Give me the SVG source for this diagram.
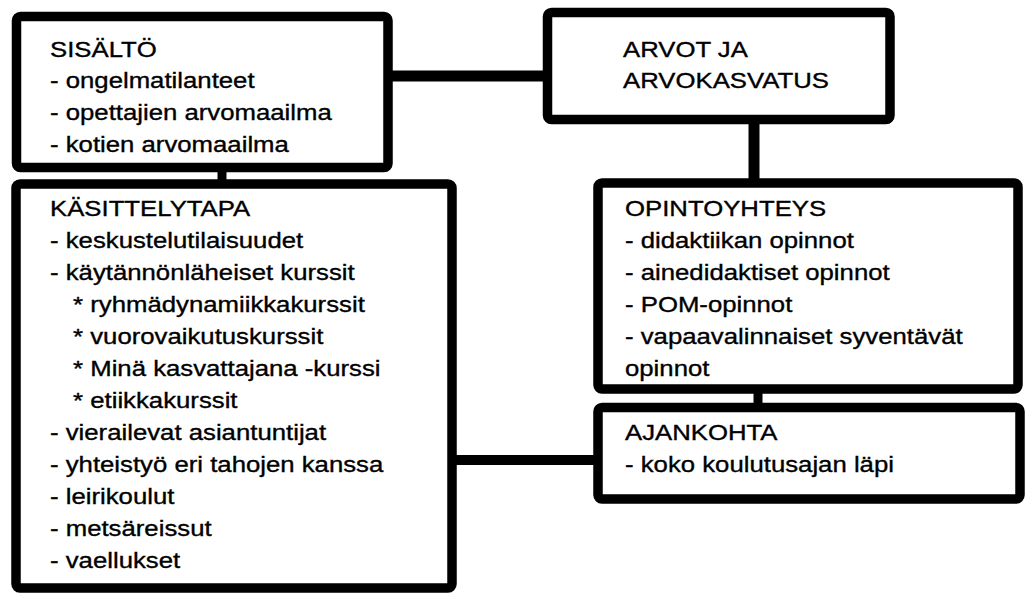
<svg xmlns="http://www.w3.org/2000/svg" width="1031" height="596" viewBox="0 0 1031 596">
<style>
.box{fill:#fff;stroke:#000;stroke-width:9.5}
.conn{stroke:#000;fill:none;stroke-linecap:butt}
.t{font-family:"Liberation Sans",Arial,Helvetica,sans-serif;font-size:22px;fill:#000;stroke:#000;stroke-width:0.35}
</style>
<rect width="1031" height="596" fill="#fff"/>
<g id="connectors">
<line class="conn" x1="388" y1="76" x2="548" y2="76" stroke-width="11"/>
<line class="conn" x1="222" y1="167" x2="222" y2="185" stroke-width="9"/>
<line class="conn" x1="754" y1="119" x2="754" y2="184" stroke-width="11"/>
<line class="conn" x1="758" y1="389" x2="758" y2="408" stroke-width="9"/>
<line class="conn" x1="452" y1="460" x2="598" y2="460" stroke-width="10"/>
</g>
<g id="sisalto">
<rect class="box" x="16.5" y="16.5" width="371.5" height="151" rx="4"/>
<g class="t" transform="translate(50,0) scale(1.17,1)">
<text x="0" y="57">SISÄLTÖ</text>
<text x="0" y="88.5">- ongelmatilanteet</text>
<text x="0" y="120">- opettajien arvomaailma</text>
<text x="0" y="152">- kotien arvomaailma</text>
</g>
</g>
<g id="arvot">
<rect class="box" x="547.5" y="12.5" width="342.5" height="107" rx="4"/>
<g class="t" transform="translate(623,0) scale(1.17,1)">
<text x="0" y="57">ARVOT JA</text>
<text x="0" y="88">ARVOKASVATUS</text>
</g>
</g>
<g id="kasittelytapa">
<rect class="box" x="16" y="184" width="436" height="404" rx="4"/>
<g class="t" transform="translate(50,0) scale(1.17,1)">
<text x="0" y="216">KÄSITTELYTAPA</text>
<text x="0" y="248">- keskustelutilaisuudet</text>
<text x="0" y="280">- käytännönläheiset kurssit</text>
<text x="19.7" y="312">* ryhmädynamiikkakurssit</text>
<text x="19.7" y="344">*  vuorovaikutuskurssit</text>
<text x="19.7" y="376">* Minä kasvattajana -kurssi</text>
<text x="19.7" y="408">* etiikkakurssit</text>
<text x="0" y="440">- vierailevat asiantuntijat</text>
<text x="0" y="472">- yhteistyö eri tahojen kanssa</text>
<text x="0" y="504">- leirikoulut</text>
<text x="0" y="536">- metsäreissut</text>
<text x="0" y="568">- vaellukset</text>
</g>
</g>
<g id="opintoyhteys">
<rect class="box" x="598" y="183" width="420" height="206" rx="4"/>
<g class="t" transform="translate(625,0) scale(1.17,1)">
<text x="0" y="216">OPINTOYHTEYS</text>
<text x="0" y="248">- didaktiikan opinnot</text>
<text x="0" y="280">- ainedidaktiset opinnot</text>
<text x="0" y="312">- POM-opinnot</text>
<text x="0" y="344">- vapaavalinnaiset syventävät</text>
<text x="0" y="376">opinnot</text>
</g>
</g>
<g id="ajankohta">
<rect class="box" x="598" y="407.5" width="422" height="91.5" rx="4"/>
<g class="t" transform="translate(625,0) scale(1.17,1)">
<text x="0" y="440">AJANKOHTA</text>
<text x="0" y="472">- koko koulutusajan läpi</text>
</g>
</g>
</svg>
